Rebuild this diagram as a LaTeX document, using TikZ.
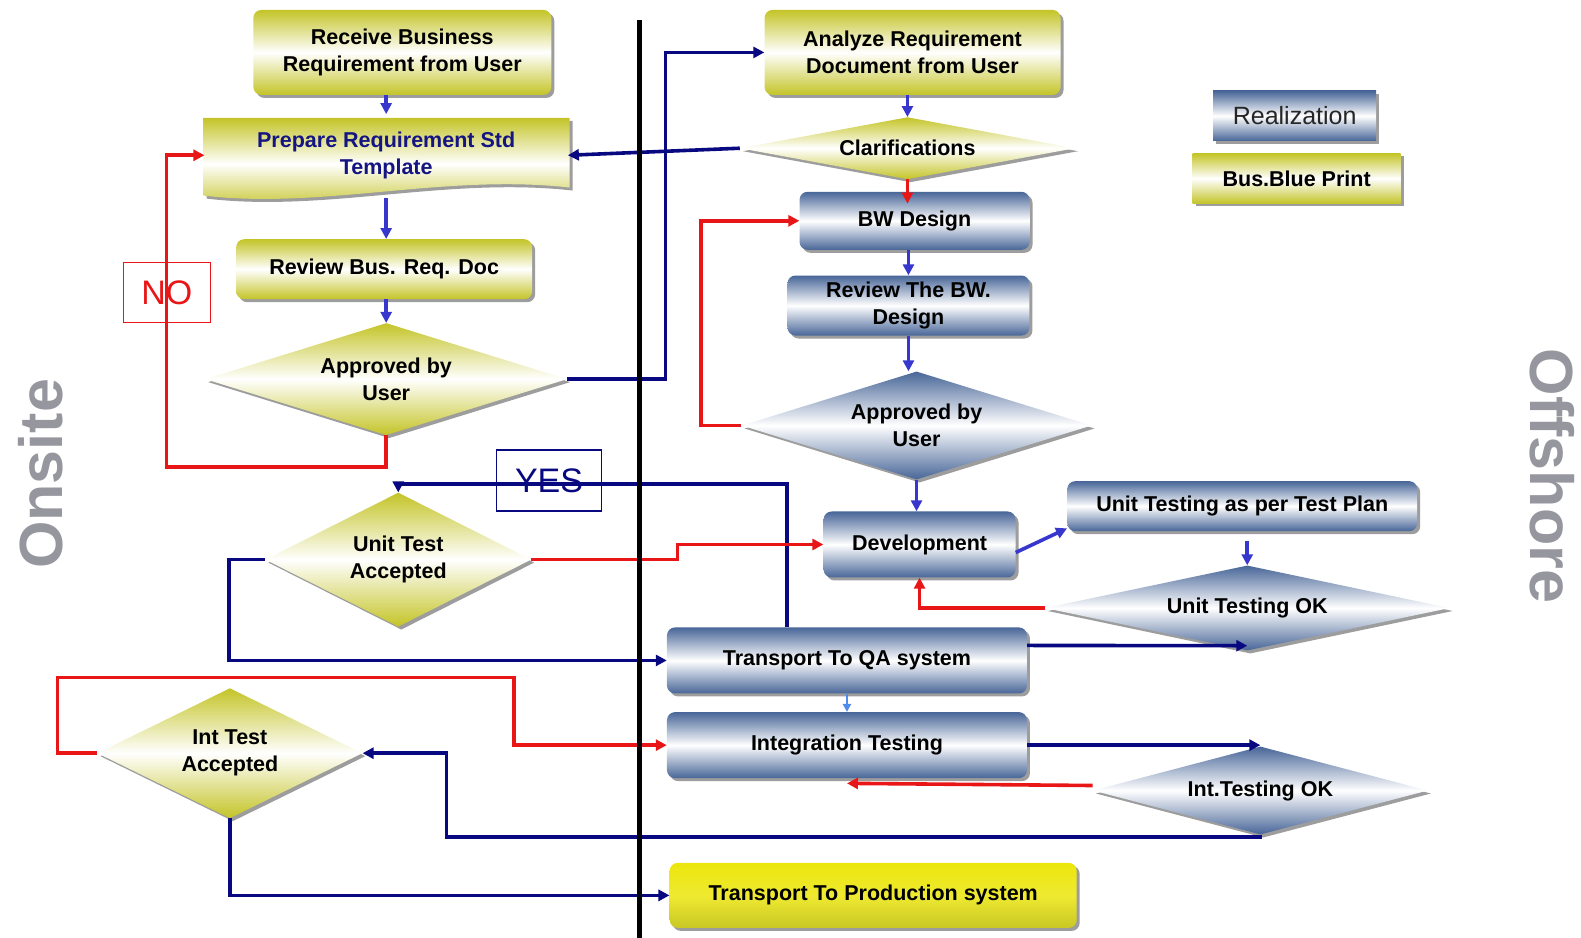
\documentclass[tikz,border=0pt]{standalone}
\usepackage{fontspec}
\setmainfont{Liberation Sans}
\usetikzlibrary{shapes.geometric,shadows,arrows.meta}
\definecolor{navy}{RGB}{8,8,128}
\definecolor{midblue}{RGB}{55,55,205}
\definecolor{lightblue}{RGB}{80,140,235}
\definecolor{redline}{RGB}{232,22,22}
\definecolor{olive}{RGB}{196,196,40}
\definecolor{brightyellow}{RGB}{236,230,12}
\definecolor{steel}{RGB}{72,102,152}
\definecolor{sidegray}{RGB}{150,150,158}
\definecolor{preptext}{RGB}{20,20,130}

\begin{document}
\begin{tikzpicture}[x=1.0083pt,y=-1.0083pt,
  shadowed/.style={drop shadow={shadow xshift=3pt,shadow yshift=-3pt,fill=black!55,opacity=0.7}},
  yshade/.style={top color=olive,bottom color=olive,middle color=white},
  bshade/.style={top color=steel,bottom color=steel,middle color=white},
  boxtext/.style={font=\bfseries\fontsize{21.5}{27}\selectfont,align=center,text=black},
  ybox/.style={shadowed,yshade,boxtext,rounded corners=8pt,inner sep=0pt},
  bbox/.style={shadowed,bshade,boxtext,rounded corners=8pt,inner sep=0pt},
  ydia/.style={shape=diamond,shadowed,yshade,boxtext,inner sep=0pt},
  bdia/.style={shape=diamond,shadowed,bshade,boxtext,inner sep=0pt},
  conn/.style={line width=3.6pt,-{Triangle[length=11pt,width=11pt]}},
  tag/.style={line width=1.2pt,fill=none,font=\fontsize{34}{34}\selectfont,inner sep=0pt},
  side/.style={font=\bfseries\fontsize{61}{61}\selectfont,text=sidegray}
]
\useasboundingbox (0,0) rectangle (1568,930);

% ---- left column: business side ----
\node[ybox,minimum width=298pt,minimum height=85pt] (recv) at (399,52)
  {Receive Business\\Requirement from User};

% document shape with a wavy lower edge
\path[shadowed,yshade] (202,117) -- (565,117) -- (565,186)
  .. controls (440,172) and (320,208) .. (202,194) -- cycle;
\node[boxtext,text=preptext,minimum width=363pt,minimum height=78pt,inner sep=0pt]
  (prep) at (383,154) {Prepare Requirement Std\\Template};

\node[ybox,minimum width=296pt,minimum height=60pt] (review) at (381,267)
  {Review Bus. Req. Doc};
\node[ydia,aspect=3.23,minimum width=362pt,minimum height=112pt] (appr1) at (383,376)
  {Approved by\\User};
\node[ydia,aspect=1.99,minimum width=266pt,minimum height=134pt] (uta) at (395,555)
  {Unit Test\\Accepted};
\node[ydia,aspect=2.04,minimum width=265pt,minimum height=130pt] (ita) at (228,747)
  {Int Test\\Accepted};

% ---- right column: realization ----
\node[ybox,minimum width=296pt,minimum height=85pt] (analyze) at (905,52)
  {Analyze Requirement\\Document from User};
\node[ydia,aspect=5.4,minimum width=335pt,minimum height=62pt] (clar) at (900,147)
  {Clarifications};
\node[bbox,minimum width=230pt,minimum height=58pt] (bwd) at (907,219) {BW Design};
\node[bbox,minimum width=242pt,minimum height=60pt] (rbw) at (901,303)
  {Review The BW.\\Design};
\node[bdia,aspect=3.24,minimum width=350pt,minimum height=108pt] (appr2) at (909,422)
  {Approved by\\User};
\node[bbox,minimum width=192pt,minimum height=66pt] (dev) at (912,540) {Development};
\node[bbox,minimum width=350pt,minimum height=50pt] (utp) at (1232,502)
  {Unit Testing as per Test Plan};
\node[bdia,aspect=4.76,minimum width=405pt,minimum height=85pt] (utok) at (1237,603)
  {Unit Testing OK};
\node[bbox,minimum width=360pt,minimum height=66pt] (tqa) at (840,655)
  {Transport To QA system};
\node[bbox,minimum width=360pt,minimum height=66pt] (itest) at (840,739)
  {Integration Testing};
\node[bdia,aspect=3.8,minimum width=335pt,minimum height=88pt] (itok) at (1250,784)
  {Int.Testing OK};
\node[shadowed,top color=brightyellow,bottom color=olive!90!brightyellow,
  middle color=brightyellow!85!white,boxtext,rounded corners=8pt,inner sep=0pt,
  minimum width=407pt,minimum height=65pt] (tprod) at (866,888)
  {Transport To Production system};

% ---- legend ----
\node[shadowed,bshade,minimum width=163pt,minimum height=50pt,inner sep=0pt,
  font=\fontsize{25}{25}\selectfont,text=black!85] (legreal) at (1284,115) {Realization};
\node[shadowed,yshade,minimum width=208pt,minimum height=50pt,inner sep=0pt,
  font=\bfseries\fontsize{21.5}{21.5}\selectfont] (legbus) at (1286,177) {Bus.Blue Print};

% ---- side captions ----
\node[side,rotate=90] (onsite) at (40,470) {Onsite};
\node[side,rotate=-90] (offshore) at (1540,472) {Offshore};

% ---- short vertical flow arrows ----
\draw[conn,midblue] (recv.south -| prep.north) -- ([yshift=2pt]prep.north);
\draw[conn,midblue] ([yshift=-4pt]prep.south) -- (prep.south |- review.north);
\draw[conn,midblue] (review.south -| appr1.north) -- (appr1.north);
\draw[conn,midblue] (analyze.south -| clar.north) -- (clar.north);
\draw[conn,redline] (clar.south) -- ([yshift=-12pt]clar.south |- bwd.north);
\draw[conn,midblue] (bwd.south -| rbw.north) -- (rbw.north);
\draw[conn,midblue] (rbw.south) -- (rbw.south |- appr2.north);
\draw[conn,midblue] (appr2.south) -- (appr2.south |- dev.north);
\draw[conn,midblue] ([yshift=-8pt]dev.east) -- ([yshift=3pt]utp.south west);
\draw[conn,midblue] ([yshift=-10pt]utp.south -| utok.north) -- (utok.north);
\draw[line width=2.4pt,lightblue,-{Triangle[length=8pt,width=8pt]}] (tqa.south) -- (itest.north);

% ---- loops and hand-overs ----
\draw[conn,redline] (appr1.south) |- (165,463) |- (prep.west);
\draw[conn,navy] (appr1.east) -- (660,376) |- (analyze.west);
\draw[conn,navy] (clar.west) -- (prep.east);
\draw[conn,redline] (appr2.west) -- (695,422) |- (bwd.west);
\draw[conn,redline] (utok.west) -| (dev.south);
\draw[conn,navy] ([yshift=15pt]tqa.east) -- ([yshift=5pt]utok.south);
\draw[conn,navy] ([xshift=-60pt]tqa.north) |- (uta.north |- 0,480) -- (uta.north);
\draw[conn,redline] (uta.east) -- (672,555) |- (dev.west);
\draw[conn,navy] (uta.west) -- (227,555) |- (tqa.west);
\draw[conn,redline] (ita.west) -- (57,747) |- (510,672) |- (itest.west);
\draw[conn,navy] (itest.east) -- (itok.north |- itest.east);
\draw[conn,redline] ([yshift=5pt]itok.west) -- ([yshift=-5pt]itest.south);
\draw[conn,navy] (itok.south) |- (443,830) |- (ita.east);
\draw[conn,navy] (ita.south) |- (tprod.west);

% ---- decision tags ----
\node[tag,draw=redline,text=redline,minimum width=87pt,minimum height=60pt] (no) at (165.5,290) {NO};
\node[tag,draw=navy,text=navy,minimum width=105pt,minimum height=61pt] (yes) at (544.5,476.5) {YES};

% ---- divider between onsite and offshore ----
\draw[line width=5.5pt,black] (634,20) -- (634,930);
\end{tikzpicture}
\end{document}
